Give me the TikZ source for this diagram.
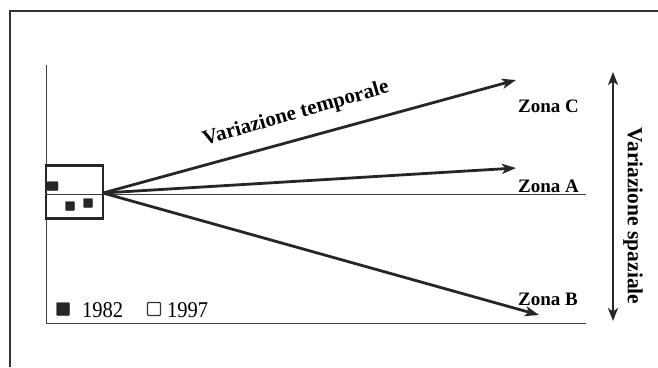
\documentclass[tikz,border=0pt]{standalone}
\usepackage{fontspec}
\setmainfont{Liberation Serif}
\usetikzlibrary{arrows.meta}
\begin{document}
\begin{tikzpicture}[x=1pt,y=-1pt,
  thinline/.style={line width=1pt, draw=black!75},
  bigarrow/.style={line width=2.8pt, draw=black!85, -{Stealth[length=14pt,width=10pt,inset=3.5pt]}},
  zone/.style={font=\fontsize{19}{19}\selectfont\bfseries, inner sep=0pt, anchor=base west},
  dot/.style={fill=black!85, draw=black!85, rounded corners=1pt, minimum size=9pt, inner sep=0pt},
  legtext/.style={inner sep=0pt, anchor=base west, font=\fontsize{20.5}{20.5}\selectfont}]
\useasboundingbox (0,0) rectangle (658,367);
% outer frame
\draw[line width=1.4pt, black!80] (10,367) -- (10,11) -- (658,11);
% axes
\coordinate (axtop) at (46,65);
\coordinate (axorig) at (46,323);
\coordinate (axend) at (586,323);
\coordinate (aend) at (586,194);
\draw[thinline] (axtop) -- (axorig) -- (axend);
% box
\node[draw=black!85, line width=2.4pt, minimum width=57pt, minimum height=53pt, inner sep=0pt] (box) at (74.5,192) {};
\draw[thinline] (box.west |- aend) -- (aend);
\node[dot, minimum width=11pt] (s1) at (52.5,186) {};
\node[dot] (s2) at (70,206) {};
\node[dot] (s3) at (88,203) {};
% arrows
\coordinate (o) at (103,193);
\coordinate (tc) at (516,80);
\coordinate (ta) at (516,168);
\coordinate (tb) at (539,315);
\draw[bigarrow] (o) -- (tc);
\draw[bigarrow] (o) -- (ta);
\draw[bigarrow] (o) -- (tb);
% labels
\node[zone] (zc) at (518,112) {Zona C};
\node[zone] (za) at (518,192) {Zona A};
\node[zone] (zb) at (518,305) {Zona B};
\node[font=\fontsize{21}{21}\selectfont\bfseries, rotate=16, inner sep=0pt] (vt) at (296,114) {Variazione temporale};
% vertical double arrow
\coordinate (vtop) at (613,72);
\coordinate (vbot) at (613,321);
\draw[line width=2.8pt, black!85, {Stealth[length=13pt,width=10pt,inset=3.5pt]}-{Stealth[length=13pt,width=10pt,inset=3.5pt]}] (vtop) -- (vbot);
\node[font=\fontsize{21.5}{21.5}\selectfont\bfseries, rotate=-90, inner sep=0pt] (vs) at (633,216) {Variazione spaziale};
% legend
\node[dot, minimum size=13pt] (l1) at (63,309) {};
\node[legtext] (t1) at (82,317) {\scalebox{1}[1.1]{1982}};
\node[draw=black!80, line width=1.1pt, minimum size=13pt, inner sep=0pt, rounded corners=1pt] (l2) at (154,309) {};
\node[legtext] (t2) at (167,317) {\scalebox{1}[1.1]{1997}};
\end{tikzpicture}
\end{document}
